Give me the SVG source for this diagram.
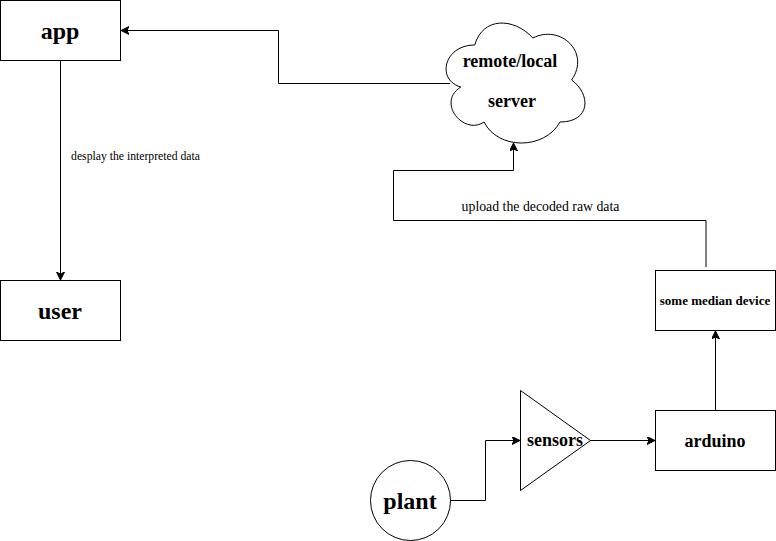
<svg xmlns="http://www.w3.org/2000/svg" width="776" height="541" viewBox="0 0 776 541">
<style>
.s{fill:#fff;stroke:#000;stroke-width:1}
.c{fill:none;stroke:#000;stroke-width:1}
text{font-family:"Liberation Serif","Times New Roman",serif;fill:#000;text-anchor:middle}
.b{font-weight:bold}
</style>
<defs><marker id="a" markerUnits="userSpaceOnUse" markerWidth="10" markerHeight="10" refX="8" refY="4" orient="auto"><path d="M0 0L8 4L0 8L2 4Z" fill="#000" stroke="#000"/></marker></defs>
<rect width="776" height="541" fill="#fff"/>
<g id="connectors">
<path class="c" marker-end="url(#a)" d="M60.500 60.500V280"/>
<path class="c" marker-end="url(#a)" d="M450 83.500H278.500V30.500H121"/>
<path class="c" marker-end="url(#a)" d="M706 267V220.500H393.500V170.500H513.500V143"/>
<path class="c" marker-end="url(#a)" d="M715.500 410V331"/>
<path class="c" marker-end="url(#a)" d="M590 440.500H655"/>
<path class="c" marker-end="url(#a)" d="M450 500.500H485.500V440.500H520"/>
</g>
<g id="app"><rect class="s" x="0.500" y="0.500" width="120" height="60"/><text class="b" x="60" y="39" font-size="24">app</text></g>
<g id="user"><rect class="s" x="0.500" y="280.500" width="120" height="60"/><text class="b" x="60" y="319" font-size="24">user</text></g>
<g id="server"><path class="s" d="M474.750 45C443.750 45 436 80 460.800 87C436 102.400 463.900 136 484.050 122C498 150 544.500 150 560 122C591 122 591 94 571.625 80C591 52 560 24 532.875 38C513.500 17 482.500 17 474.750 45Z"/><text class="b" x="510" y="67" font-size="18">remote/local</text><text class="b" x="512" y="107" font-size="18">server</text></g>
<g id="median"><rect class="s" x="655.500" y="270.500" width="120" height="60"/><text class="b" x="715" y="305" font-size="13">some median device</text></g>
<g id="arduino"><rect class="s" x="655.500" y="410.500" width="120" height="60"/><text class="b" x="715" y="447" font-size="18">arduino</text></g>
<g id="sensors"><path class="s" d="M520.500 390.500L590.500 440.500L520.500 490.500Z"/><text class="b" x="555" y="446" font-size="18">sensors</text></g>
<g id="plant"><circle class="s" cx="410.500" cy="500.500" r="40"/><text class="b" x="410" y="509" font-size="24">plant</text></g>
<g id="labels"><text x="135.500" y="160" font-size="11.700">desplay the interpreted data</text><text x="540.500" y="211" font-size="13.800">upload the decoded raw data</text></g>
</svg>
